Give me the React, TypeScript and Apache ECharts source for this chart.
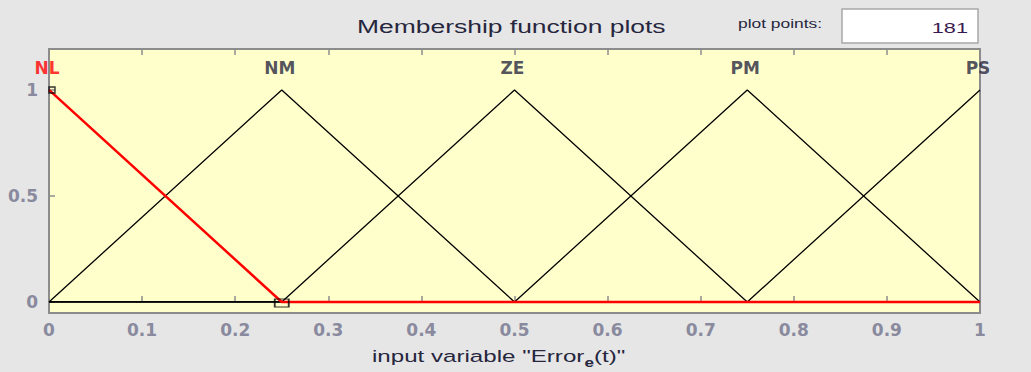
import React, { useEffect, useRef } from "react";
import * as echarts from "echarts";

// Membership function names and their breakpoints [x, membership]
const mfNames = ["NL", "NM", "ZE", "PM", "PS"];
const mfPeaks = [0, 0.25, 0.5, 0.75, 1];
const nlPoints = [[0, 1], [0.25, 0], [1, 0]];
const nmPoints = [[0, 0], [0.25, 1], [0.5, 0], [1, 0]];
const zePoints = [[0, 0], [0.25, 0], [0.5, 1], [0.75, 0], [1, 0]];
const pmPoints = [[0, 0], [0.5, 0], [0.75, 1], [1, 0]];
const psPoints = [[0, 0], [0.75, 0], [1, 1]];
const xTicks = [0, 0.1, 0.2, 0.3, 0.4, 0.5, 0.6, 0.7, 0.8, 0.9, 1];
const yTicks = [0, 0.5, 1];
const plotPoints = 181;

const GRAY_TEXT = "#8a8a9e";
const DARK_TEXT = "#26263e";
const FONT = "'Liberation Sans', Arial, sans-serif";
const WIDE_FONT = "'DejaVu Sans', sans-serif";

export default function App() {
  const ref = useRef<HTMLDivElement>(null);

  useEffect(() => {
    if (!ref.current) return;
    const chart = echarts.init(ref.current, null, { renderer: "svg" });

    const blackLine = (data: number[][]) => ({
      type: "line",
      data,
      symbol: "none",
      lineStyle: { color: "#000", width: 1.3 },
      z: 2,
    });

    const tickStyle = { color: "#8c8c8c", width: 1.5 };

    chart.setOption({
      animation: false,
      backgroundColor: "#e6e6e6",
      textStyle: { fontFamily: WIDE_FONT },
      grid: {
        left: 49,
        right: 51,
        top: 49,
        bottom: 59,
        show: true,
        backgroundColor: "#ffffcc",
        borderColor: "#8c8c8c",
        borderWidth: 2,
      },
      xAxis: [
        {
          type: "value",
          min: 0,
          max: 1,
          interval: 0.1,
          axisLine: { show: false },
          splitLine: { show: false },
          axisTick: { show: true, inside: true, length: 6, lineStyle: tickStyle },
          axisLabel: {
            color: GRAY_TEXT,
            fontSize: 17,
            fontWeight: "bold",
            fontFamily: WIDE_FONT,
            margin: 8,
            customValues: xTicks,
            formatter: (v: number) => String(Math.round(v * 10) / 10),
          },
        },
        {
          type: "value",
          position: "top",
          min: 0,
          max: 1,
          interval: 0.1,
          axisLine: { show: false },
          splitLine: { show: false },
          axisLabel: { show: false },
          axisTick: { show: true, inside: true, length: 6, lineStyle: tickStyle },
        },
      ],
      yAxis: {
        type: "value",
        min: -0.052,
        max: 1.193,
        axisLine: { show: false },
        splitLine: { show: false },
        axisTick: {
          show: true,
          inside: true,
          length: 6,
          lineStyle: tickStyle,
          customValues: yTicks,
        },
        axisLabel: {
          color: GRAY_TEXT,
          fontSize: 17,
          fontWeight: "bold",
          fontFamily: WIDE_FONT,
          margin: 11,
          customValues: yTicks,
          formatter: (v: number) => String(v),
        },
      },
      series: [
        blackLine(nmPoints),
        blackLine(zePoints),
        blackLine(pmPoints),
        blackLine(psPoints),
        {
          type: "line",
          data: nlPoints,
          symbol: "none",
          lineStyle: { color: "#ff0000", width: 2.5 },
          z: 3,
        },
        {
          // handles of the selected function
          type: "scatter",
          data: [
            { value: nlPoints[0], symbolSize: [6, 6], symbolOffset: [3, 0] },
            { value: nlPoints[1], symbolSize: [14, 8], symbolOffset: [0, 1] },
          ],
          symbol: "rect",
          itemStyle: { color: "rgba(0,0,0,0)", borderColor: "#000", borderWidth: 1.4 },
          z: 4,
        },
        {
          // function name labels above each peak
          type: "scatter",
          symbolSize: 0,
          data: mfNames.map((n, i) => ({
            value: [mfPeaks[i], 1.104],
            name: n,
            label: {
              show: true,
              position: "inside",
              offset: [-2, 0],
              formatter: n,
              fontSize: 17,
              fontFamily: WIDE_FONT,
              fontWeight: "bold",
              color: i === 0 ? "#ff0000" : DARK_TEXT,
            },
          })),
          z: 5,
        },
      ],
      graphic: [
        {
          type: "text",
          x: 357,
          y: 27,
          scaleX: 1.47,
          style: {
            text: "Membership function plots",
            x: 0,
            y: 0,
            verticalAlign: "middle",
            fill: DARK_TEXT,
            font: `18px ${FONT}`,
          },
        },
        {
          type: "text",
          x: 738,
          y: 23.5,
          scaleX: 1.45,
          style: {
            text: "plot points:",
            x: 0,
            y: 0,
            verticalAlign: "middle",
            fill: DARK_TEXT,
            font: `12px ${FONT}`,
          },
        },
        {
          type: "rect",
          shape: { x: 842, y: 9, width: 136, height: 34 },
          style: { fill: "#ffffff", stroke: "#a8a8a8", lineWidth: 1.5 },
        },
        {
          type: "text",
          x: 968,
          y: 28,
          scaleX: 1.45,
          style: {
            text: String(plotPoints),
            x: 0,
            y: 0,
            align: "right",
            verticalAlign: "middle",
            fill: "#3a1a4e",
            font: `15px ${FONT}`,
          },
        },
        {
          // x-axis name with subscripted "e"
          type: "text",
          x: 372,
          y: 356,
          scaleX: 1.42,
          style: {
            text: '{a|input variable "Error}{s|e}{a|(t)"}',
            x: 0,
            y: 0,
            verticalAlign: "middle",
            rich: {
              a: { fill: DARK_TEXT, font: `17px ${FONT}` },
              s: {
                fill: DARK_TEXT,
                font: `bold 12px ${FONT}`,
                padding: [14, 0, 0, 0],
              },
            },
          },
        },
      ],
    });

    return () => chart.dispose();
  }, []);

  return (
    <div
      ref={ref}
      style={{ position: "fixed", left: 0, top: 0, width: 1031, height: 372 }}
    />
  );
}
